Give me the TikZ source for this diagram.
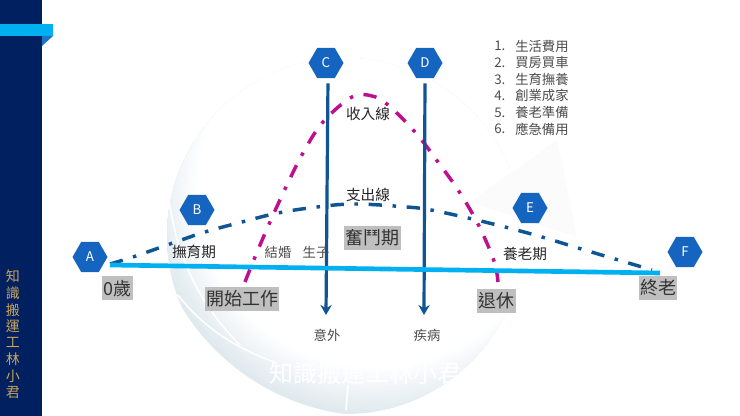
\documentclass[tikz,border=0pt]{standalone}
\usepackage{fontspec}
\setmainfont{Noto Sans CJK TC}
\usetikzlibrary{shapes.geometric,arrows.meta}
\definecolor{navybar}{HTML}{002060}
\definecolor{ribbon}{HTML}{00B0F0}
\definecolor{ribbonfold}{HTML}{1874CD}
\definecolor{hexblue}{HTML}{1565C0}
\definecolor{lineblue}{HTML}{0F5494}
\definecolor{linepink}{HTML}{BE0F8E}
\definecolor{boxgray}{HTML}{BFBFBF}
\definecolor{goldtext}{HTML}{C8A45C}
\definecolor{wmblue}{HTML}{DFE9EE}
\tikzset{
	hexnode/.style={regular polygon, regular polygon sides=6, fill=hexblue, text=white, minimum size=35*0.75pt, inner sep=0pt, font=\fontsize{10}{10}\selectfont},
	graybox/.style={fill=boxgray, text=black!80, inner xsep=1pt, inner ysep=0pt, minimum height=18pt, font=\fontsize{13.5}{14}\selectfont},
	stagetext/.style={text=black!85, inner sep=0pt, font=\fontsize{11}{12}\selectfont},
	smalltext/.style={text=black!70, inner sep=0pt, font=\fontsize{10}{11}\selectfont},
	curveline/.style={line width=2.6pt, dash pattern=on 10pt off 8pt on 2.6pt off 8pt},
	dropline/.style={line width=2.4pt, lineblue, -{Stealth[length=7.5pt,width=8.5pt]}},
}
\begin{document}
\begin{tikzpicture}[x=0.75pt, y=-0.75pt, line join=round]
	\useasboundingbox (0,0) rectangle (740,416);
	% watermark
	\begin{scope}
		\clip (345,236) circle (178*0.75pt);
		\foreach \r in {226,223,...,176}{
			\pgfmathsetmacro\pct{min(100,max(0,(\r-178)*2.1))}
			\fill[wmblue!\pct!white] (375,190) circle (\r*0.75pt);
		}
	\end{scope}
	\fill[black!1.5!white] (557,140) -- (470,202) -- (577,237) -- cycle;
	\draw[white, line width=1.2pt] (168,193) .. controls (175,250) and (195,300) .. (240,345);
	\draw[white, line width=1.2pt] (178,295) .. controls (205,330) and (240,350) .. (277,363);
	\draw[white, line width=1.2pt] (346,410) -- (348,385);
	\node[white, inner sep=0pt, font=\fontsize{18}{19}\selectfont] (wmtext) at (365,373) {知識搬運工林小君};
	% side bar
	\fill[navybar] (0,0) rectangle (42,416);
	\fill[ribbon] (0,24) rectangle (53,36);
	\fill[ribbonfold] (42,36) -- (53,36) -- (42,46) -- cycle;
	\foreach \ch [count=\i from 0] in {知,識,搬,運,工,林,小,君}
		\node[text=goldtext, inner sep=0pt, font=\fontsize{10.5}{11}\selectfont] (side\i) at (13,276.5+16.6*\i) {\ch};
	% hexagons
	\node[hexnode] (A) at (90,257) {A};
	\node[hexnode] (B) at (197,210) {B};
	\node[hexnode] (C) at (326,63) {C};
	\node[hexnode] (D) at (425,63) {D};
	\node[hexnode] (E) at (530,208) {E};
	\node[hexnode] (F) at (685,252) {F};
	% curves
	\draw[curveline, linepink] plot[smooth, tension=0.6] coordinates {(245,282) (255,257) (270,222) (286,187) (303,153) (323,122) (352,97) (372,96) (388,105) (415,132) (438,162) (460,193) (479,226) (494,261) (498,282)};
	\draw[curveline, lineblue] plot[smooth, tension=0.6] coordinates {(110,264) (133,257) (170,244) (205,232) (242,222) (278,213) (317,207) (355,204) (407,207) (431,210) (468,218) (505,227) (542,237) (578,248) (615,259) (652,270)};
	% drop lines
	\coordinate (Cend) at (326,315);
	\coordinate (Dend) at (424,315);
	\draw[dropline, shorten <=5*0.75pt] (C.south) ++(2,0) -- (Cend);
	\draw[dropline, shorten <=5*0.75pt] (D.south) -- (Dend);
	% life line
	\coordinate (birth) at (110,265);
	\coordinate (death) at (660,273);
	\draw[ribbon, line width=3.5pt] (birth) -- (death);
	% labels
	\node[graybox] (age0) at (117.5,288.5) {0歲};
	\node[graybox] (startjob) at (242,299) {開始工作};
	\node[graybox] (retire) at (496.5,301) {退休};
	\node[graybox] (final) at (658,288) {終老};
	\node[graybox] (fight) at (372.5,238) {奮鬥期};
	\node[stagetext] (raise) at (194,252) {撫育期};
	\node[stagetext] (elder) at (525,254) {養老期};
	\node[stagetext] (income) at (368,114) {收入線};
	\node[stagetext] (spend) at (368,195) {支出線};
	\node[smalltext] (marry) at (278,252) {結婚};
	\node[smalltext] (child) at (316,252) {生子};
	\node[smalltext] (accident) at (327,335) {意外};
	\node[smalltext] (illness) at (427,335) {疾病};
	% list
	\foreach \txt [count=\i] in {生活費用,買房買車,生育撫養,創業成家,養老準備,應急備用}{
		\node[smalltext, anchor=west] (num\i) at (494,29.5+16.6*\i) {\i.};
		\node[smalltext, anchor=west] (item\i) at (515,29.5+16.6*\i) {\txt};
	}
\end{tikzpicture}
\end{document}
